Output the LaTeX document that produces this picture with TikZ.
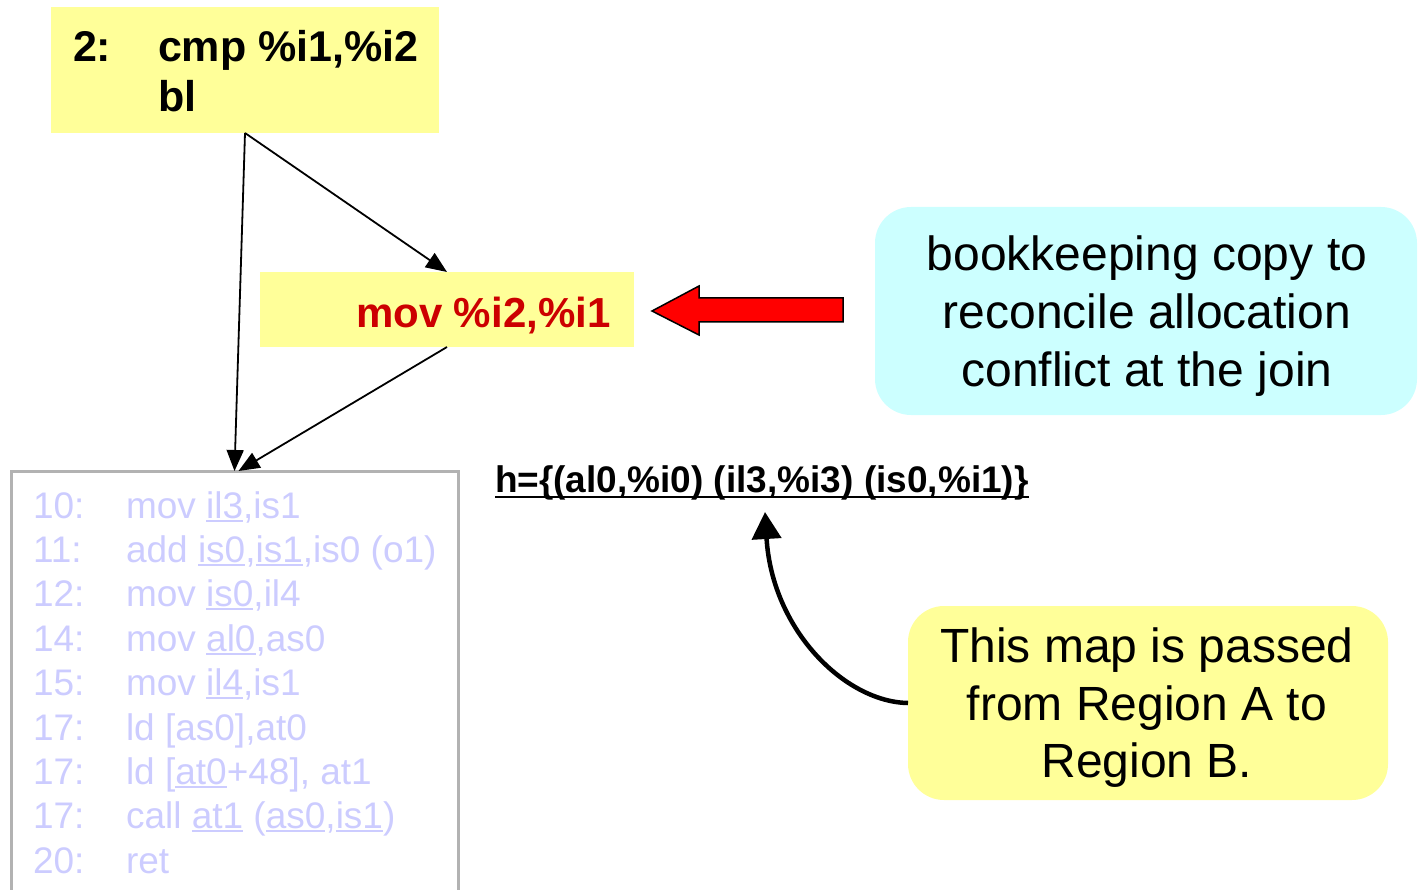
\documentclass[tikz,border=0pt]{standalone}
\usepackage{fontspec}
\setmainfont{Liberation Sans}
\usetikzlibrary{arrows.meta}

\definecolor{paleyellow}{HTML}{FFFF99}
\definecolor{palecyan}{HTML}{CCFFFF}
\definecolor{fadedtext}{HTML}{CCCCFF}
\definecolor{boxgray}{HTML}{B2B2B2}
\definecolor{darkred}{HTML}{CC0000}
\definecolor{brightred}{HTML}{FF0000}

% underline a piece of text with a rule of its own width
\newcommand\ulin[1]{\setbox0=\hbox{#1}\rlap{\rule[-3.5pt]{\wd0}{2pt}}\box0\relax}
\newcommand\ulmap[1]{\setbox0=\hbox{#1}\rlap{\rule[-6pt]{\wd0}{2.5pt}}\box0\relax}

\begin{document}
\begin{tikzpicture}[x=1pt,y=-1pt,
  txt/.style={anchor=base west, inner sep=0pt, outer sep=0pt},
  ctxt/.style={anchor=base, inner sep=0pt, outer sep=0pt},
  blk/.style={rectangle, inner sep=0pt, outer sep=0pt},
  codebig/.style={txt, font=\bfseries\fontsize{43}{50}\selectfont},
  faded/.style={txt, text=fadedtext, font=\fontsize{37}{44}\selectfont},
  note/.style={ctxt, font=\fontsize{48}{57}\selectfont},
  flow/.style={draw=black, line width=1.8pt, -{Triangle[length=21pt,width=17pt]}},
]
\useasboundingbox (0,0) rectangle (1418,890);
\clip (0,0) rectangle (1418,890);

% basic blocks
\node[blk, fill=paleyellow, minimum width=388pt, minimum height=126pt] (cmpblk) at (245,70) {};
\node[blk, fill=paleyellow, minimum width=374pt, minimum height=75pt] (movblk) at (447,309.5) {};
\node[blk, draw=boxgray, line width=3pt, minimum width=447pt, minimum height=440pt, anchor=north] (joinblk) at (234.5,471) {};

% annotation boxes
\node[blk, fill=palecyan, rounded corners=36pt, minimum width=542pt, minimum height=208pt] (copynote) at (1146,311) {};
\node[blk, fill=paleyellow, rounded corners=36pt, minimum width=480pt, minimum height=194pt] (mapnote) at (1148,703) {};

% block contents
\node[codebig] (l2) at (73,62) {2:};
\node[codebig] (cmp) at (158,62) {cmp \%i1,\%i2};
\node[codebig] (bl) at (158,112) {bl};
\node[codebig, text=darkred, font=\bfseries\fontsize{42}{50}\selectfont] (mov) at (356,327) {mov \%i2,\%i1};

\node[faded] (n1) at (33,518) {10:};
\node[faded] (c1) at (126,518) {mov \ulin{il3},is1};
\node[faded] (n2) at (33,562.4) {11:};
\node[faded] (c2) at (126,562.4) {add \ulin{is0},\ulin{is1},is0 (o1)};
\node[faded] (n3) at (33,606.8) {12:};
\node[faded] (c3) at (126,606.8) {mov \ulin{is0},il4};
\node[faded] (n4) at (33,651.2) {14:};
\node[faded] (c4) at (126,651.2) {mov \ulin{al0},as0};
\node[faded] (n5) at (33,695.6) {15:};
\node[faded] (c5) at (126,695.6) {mov \ulin{il4},is1};
\node[faded] (n6) at (33,740) {17:};
\node[faded] (c6) at (126,740) {ld [as0],at0};
\node[faded] (n7) at (33,784.4) {17:};
\node[faded] (c7) at (126,784.4) {ld [\ulin{at0}+48], at1};
\node[faded] (n8) at (33,828.8) {17:};
\node[faded] (c8) at (126,828.8) {call \ulin{at1} (\ulin{as0},\ulin{is1})};
\node[faded] (n9) at (33,873.2) {20:};
\node[faded] (c9) at (126,873.2) {ret};

% note texts
\node[note] (cn1) at (1147,271) {bookkeeping copy to};
\node[note] (cn2) at (1147,328.5) {reconcile allocation};
\node[note] (cn3) at (1147,386) {conflict at the join};
\node[note] (mn1) at (1147,662) {This map is passed};
\node[note] (mn2) at (1147,720) {from Region A to};
\node[note] (mn3) at (1147,777.5) {Region B.};

% the map handed between regions
\node[txt, font=\bfseries\fontsize{37}{44}\selectfont] (hmap) at (495,492)
  {\ulmap{h=\{(al0,\%i0) (il3,\%i3) (is0,\%i1)\}}};
\coordinate (maptip) at (765,512);

% control-flow edges
\draw[flow] (cmpblk.south) -- (movblk.north);
\draw[flow] (cmpblk.south) -- (joinblk.north);
\draw[flow] (movblk.south) -- ([xshift=4pt]joinblk.north);

% block arrow pointing at the copy
\draw[fill=brightred, draw=black, line width=1.5pt, line join=miter]
  (652,311) -- (699,286) -- (699,298) -- (843,298) -- (843,322)
  -- (699,322) -- (699,335) -- cycle;

% curved pointer to the map
\draw[line width=4.5pt, -{Triangle[length=27pt,width=29pt]}]
  (mapnote.west) .. controls (845,702) and (772,630) .. (maptip);
\end{tikzpicture}
\end{document}
